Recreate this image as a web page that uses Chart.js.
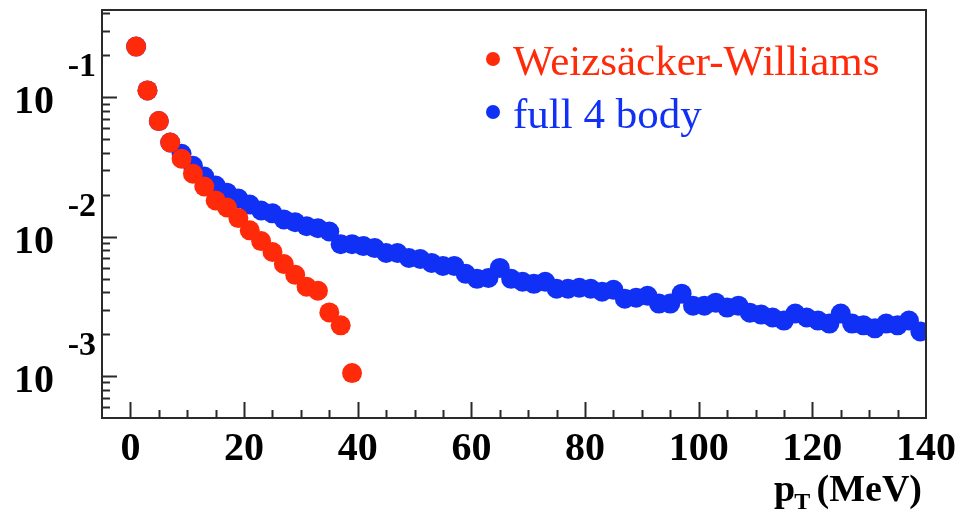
<!DOCTYPE html>
<html>
<head>
<meta charset="utf-8">
<script src="https://cdn.jsdelivr.net/npm/chart.js@4.4.0/dist/chart.umd.min.js"></script>
<style>
  body { margin: 0; background: #fff; }
  #wrap { width: 962px; height: 512px; }
</style>
</head>
<body>
<div id="wrap"><canvas id="pt"></canvas></div>
<script>
// bin centres in pT (MeV), 2 MeV bins
const ptWW = [1, 3, 5, 7, 9, 11, 13, 15, 17, 19, 21, 23, 25, 27, 29, 31, 33, 35, 37, 39];
const weizsaecker = [0.231, 0.112, 0.0675, 0.0474, 0.0362, 0.0283, 0.0229, 0.0182, 0.0162, 0.0136,
  0.0111, 0.0093, 0.00776, 0.00637, 0.00532, 0.00437, 0.00409, 0.00286, 0.00231, 0.00105];

const ptFull = [1, 3, 5, 7, 9, 11, 13, 15, 17, 19, 21, 23, 25, 27, 29, 31, 33, 35, 37, 39,
  41, 43, 45, 47, 49, 51, 53, 55, 57, 59, 61, 63, 65, 67, 69, 71, 73, 75, 77, 79,
  81, 83, 85, 87, 89, 91, 93, 95, 97, 99, 101, 103, 105, 107, 109, 111, 113, 115, 117, 119,
  121, 123, 125, 127, 129, 131, 133, 135, 137, 139];
const full4body = [0.231, 0.112, 0.0675, 0.0474, 0.0393, 0.0323, 0.027, 0.0233, 0.0207, 0.0188,
  0.017, 0.0154, 0.0147, 0.0133, 0.0127, 0.0119, 0.0115, 0.0109, 0.00884, 0.00884,
  0.00856, 0.00828, 0.00763, 0.00763, 0.00703, 0.00692, 0.00648, 0.00617, 0.00617, 0.00541,
  0.00498, 0.00506, 0.00597, 0.00498, 0.00475, 0.00459, 0.00475, 0.00423, 0.00423, 0.0043,
  0.00423, 0.00403, 0.00416, 0.00359, 0.00365, 0.00377, 0.00331, 0.00331, 0.0039, 0.0032,
  0.0032, 0.00336, 0.0031, 0.0032, 0.00285, 0.00276, 0.00263, 0.0025, 0.00281, 0.00263,
  0.0025, 0.00238, 0.00281, 0.00238, 0.00231, 0.0022, 0.00238, 0.00231, 0.0025, 0.00209];

const xTickValues = [0, 20, 40, 60, 80, 100, 120, 140];
const yDecades = [-1, -2, -3];

const RED = '#ff2a0a';
const BLUE = '#1030f5';
const SERIF = '"Liberation Serif", "Times New Roman", serif';

const toPoints = (xs, ys) => xs.map((v, i) => ({ x: v, y: ys[i] }));

// ROOT-style frame: box, inward ticks, 10^n labels and legend
const rootFrame = {
  id: 'rootFrame',
  afterDatasetsDraw(chart) {
    const { ctx, chartArea: a, scales: { x, y } } = chart;
    ctx.save();
    ctx.strokeStyle = '#2a2a2a';
    ctx.lineWidth = 2;
    ctx.strokeRect(a.left, a.top, a.right - a.left, a.bottom - a.top);

    ctx.beginPath();
    for (let v = 0; v < 140; v += 5) {
      const px = Math.round(x.getPixelForValue(v)) + 0.5;
      const len = v % 20 === 0 ? 16 : 8;
      ctx.moveTo(px, a.bottom);
      ctx.lineTo(px, a.bottom - len);
    }
    for (let e = -4; e <= 0; e++) {
      for (let k = 1; k <= 9; k++) {
        const v = k * Math.pow(10, e);
        if (v <= y.min || v >= y.max) continue;
        const py = Math.round(y.getPixelForValue(v)) + 0.5;
        ctx.moveTo(a.left, py);
        ctx.lineTo(a.left + (k === 1 ? 15 : 8), py);
      }
    }
    ctx.stroke();

    ctx.fillStyle = '#000';
    ctx.textBaseline = 'alphabetic';
    ctx.font = 'bold 40px ' + SERIF;
    ctx.textAlign = 'center';
    xTickValues.forEach(v => ctx.fillText(String(v), x.getPixelForValue(v), 460));

    ctx.textAlign = 'right';
    yDecades.forEach(e => {
      const py = y.getPixelForValue(Math.pow(10, e));
      ctx.font = 'bold 40px ' + SERIF;
      ctx.fillText('10', 54, py + 16);
      ctx.font = 'bold 34px ' + SERIF;
      ctx.fillText(String(e), 96, py - 21);
    });

    // axis title p_T (MeV)
    ctx.textAlign = 'left';
    ctx.font = 'bold 38px ' + SERIF;
    ctx.fillText('p', 774, 501);
    const pw = ctx.measureText('p').width;
    ctx.font = 'bold 24px ' + SERIF;
    ctx.fillText('T', 774 + pw - 1, 509);
    ctx.font = 'bold 38px ' + SERIF;
    ctx.textAlign = 'right';
    ctx.fillText('(MeV)', 922, 501);

    // legend
    ctx.textAlign = 'left';
    ctx.font = '43px ' + SERIF;
    chart.data.datasets.forEach((ds, i) => {
      const ly = 59 + i * 53;
      ctx.fillStyle = ds.backgroundColor;
      ctx.beginPath();
      ctx.arc(493, ly, 7, 0, Math.PI * 2);
      ctx.fill();
      ctx.fillText(ds.label, 513, ly + 16);
    });
    ctx.restore();
  }
};

new Chart(document.getElementById('pt'), {
  type: 'scatter',
  data: {
    datasets: [
      {
        label: 'Weizsäcker-Williams',
        data: toPoints(ptWW, weizsaecker),
        backgroundColor: RED,
        borderColor: RED,
        borderWidth: 0,
        pointRadius: 10
      },
      {
        label: 'full 4 body',
        data: toPoints(ptFull, full4body),
        backgroundColor: BLUE,
        borderColor: BLUE,
        borderWidth: 0,
        pointRadius: 10
      }
    ]
  },
  options: {
    responsive: true,
    maintainAspectRatio: false,
    animation: false,
    layout: { padding: { left: 102, right: 36, top: 7, bottom: 94 } },
    plugins: { legend: { display: false }, tooltip: { enabled: false } },
    scales: {
      x: { type: 'linear', min: -5, max: 140, bounds: 'data', display: false },
      y: { type: 'logarithmic', min: 0.0005, max: 0.423, bounds: 'data', display: false }
    }
  },
  plugins: [rootFrame]
});
</script>
</body>
</html>
